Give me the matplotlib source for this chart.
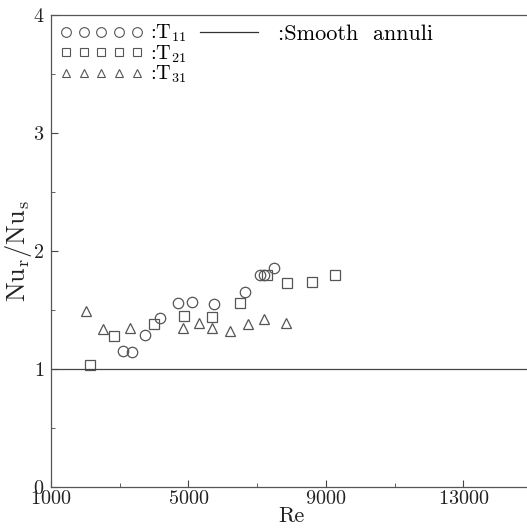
import matplotlib
matplotlib.use("Agg")
import matplotlib.pyplot as plt
from matplotlib.lines import Line2D

plt.rcParams['font.family'] = 'serif'
plt.rcParams['font.serif'] = ['cmr10', 'DejaVu Serif']
plt.rcParams['mathtext.fontset'] = 'cm'
plt.rcParams['axes.formatter.use_mathtext'] = True

# Data
re_t11 = [3110, 3350, 3740, 4180, 4690, 5100, 5750, 6650, 7090, 7200, 7480]
nu_t11 = [1.15, 1.14, 1.29, 1.43, 1.56, 1.57, 1.55, 1.65, 1.80, 1.80, 1.86]

re_t21 = [2140, 2820, 4010, 4870, 5680, 6490, 7290, 7870, 8610, 9270]
nu_t21 = [1.03, 1.28, 1.38, 1.45, 1.44, 1.56, 1.80, 1.73, 1.74, 1.80]

re_t31 = [2020, 2500, 3300, 4830, 5310, 5680, 6210, 6720, 7200, 7840]
nu_t31 = [1.49, 1.34, 1.35, 1.35, 1.39, 1.35, 1.32, 1.38, 1.42, 1.39]

smooth_value = 1.0

x_ticks = [1000, 5000, 9000, 13000]
x_minor = [3000, 7000, 11000]
y_ticks = [0, 1, 2, 3, 4]
y_minor = [0.5, 1.5, 2.5, 3.5]

W, H = 527, 531
fig = plt.figure(figsize=(W / 100, H / 100), dpi=100)
ax = fig.add_axes([51 / W, (H - 487) / H, 481 / W, 472 / H])

ec = '#555555'
kw = dict(linestyle='none', markerfacecolor='none', markeredgecolor=ec, markeredgewidth=0.9)
ax.plot(re_t11, nu_t11, marker='o', markersize=7.5, **kw)
ax.plot(re_t21, nu_t21, marker='s', markersize=6.5, **kw)
ax.plot(re_t31, nu_t31, marker='^', markersize=6.5, **kw)
ax.axhline(smooth_value, color='#444444', linewidth=0.9)

ax.set_xlim(1000, 15000)
ax.set_ylim(0, 4)
ax.set_xticks(x_ticks)
ax.set_xticks(x_minor, minor=True)
ax.set_yticks(y_ticks)
ax.set_yticks(y_minor, minor=True)
ax.tick_params(which='both', direction='in', colors='#444444', labelcolor='#222222', labelsize=14.5)
ax.tick_params(which='major', length=5, width=0.8)
ax.tick_params(which='minor', length=3, width=0.6)
ax.tick_params(axis='y', pad=5)
ax.tick_params(axis='x', pad=2)
for s in ax.spines.values():
    s.set_color('#555555')
    s.set_linewidth(0.9)
ax.spines['right'].set_visible(False)

ax.set_xlabel('Re', fontsize=16, color='#222222', labelpad=-1)
ax.set_ylabel(r'Nu$_\mathrm{r}$/Nu$_\mathrm{s}$', fontsize=19, color='#222222')
ax.yaxis.set_label_coords(-0.036, 0.5)

mk = dict(linestyle='none', markerfacecolor='none', markeredgecolor=ec, markeredgewidth=0.8)
h1 = Line2D([], [], marker='o', markersize=7, **mk)
h2 = Line2D([], [], marker='s', markersize=5.5, **mk)
h3 = Line2D([], [], marker='^', markersize=5.5, **mk)
leg1 = ax.legend([h1, h2, h3], [r':T$_{11}$', r':T$_{21}$', r':T$_{31}$'],
                 loc='upper left', bbox_to_anchor=(0.019, 0.983), frameon=False,
                 numpoints=5, handlelength=4.1, handletextpad=0.35, labelspacing=-0.05,
                 fontsize=14.5, borderaxespad=0, borderpad=0)
ax.add_artist(leg1)
h4 = Line2D([], [], color='#333333', linewidth=0.9)
ax.legend([h4], [':Smooth  annuli'], loc='upper left', bbox_to_anchor=(0.310, 0.981),
          frameon=False, handlelength=2.6, handletextpad=0.9, fontsize=16,
          borderaxespad=0, borderpad=0)

fig.savefig('out.png', dpi=100)
